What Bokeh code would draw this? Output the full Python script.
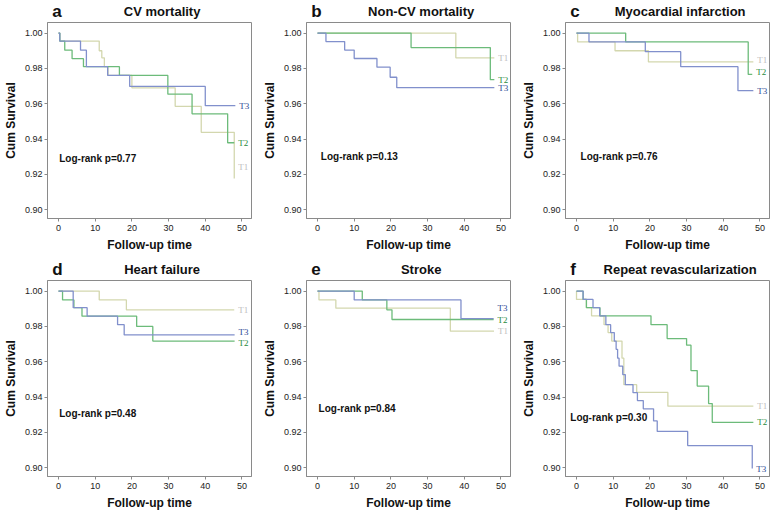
from bokeh.plotting import figure
from bokeh.layouts import row, column
from bokeh.models import FixedTicker, Range1d, PrintfTickFormatter
from bokeh.core.properties import value
from bokeh.embed import file_html
from bokeh.resources import INLINE

# ---------------- data ----------------
GROUPS = ["T1", "T2", "T3"]
PANEL_LETTERS = ["a", "b", "c", "d", "e", "f"]
PANEL_TITLES = ["CV mortality", "Non-CV mortality", "Myocardial infarction",
                "Heart failure", "Stroke", "Repeat revascularization"]
LOGRANK_P = ["0.77", "0.13", "0.76", "0.48", "0.84", "0.30"]
X_TICKS = [0, 10, 20, 30, 40, 50]
Y_TICKS = [0.90, 0.92, 0.94, 0.96, 0.98, 1.00]

# a: CV mortality
A_T1_TIME = [0, 0.35, 11.1, 11.8, 12.5, 13.5, 20.0, 31.8, 38.9, 47.9]
A_T1_SURV = [1.0, 0.9955, 0.990, 0.986, 0.981, 0.976, 0.969, 0.9585, 0.9438, 0.9176]
A_T2_TIME = [0, 0.35, 1.7, 3.7, 6.8, 16.6, 29.8, 36.4, 46.1, 47.9]
A_T2_SURV = [1.0, 0.9955, 0.9903, 0.9855, 0.981, 0.976, 0.9654, 0.9543, 0.9379, 0.9379]
A_T3_TIME = [0, 0.35, 6.0, 7.6, 13.4, 19.4, 40.0, 48.2]
A_T3_SURV = [1.0, 0.9955, 0.9903, 0.981, 0.976, 0.9698, 0.9589, 0.9589]

# b: Non-CV mortality
B_T1_TIME = [0, 37.7, 48.2]
B_T1_SURV = [1.0, 0.986, 0.986]
B_T2_TIME = [0, 25.5, 47.1, 48.2]
B_T2_SURV = [1.0, 0.9918, 0.9736, 0.9736]
B_T3_TIME = [0, 2.3, 7.4, 10.0, 16.2, 19.8, 21.6, 48.2]
B_T3_SURV = [1.0, 0.9952, 0.9904, 0.9856, 0.9807, 0.975, 0.9691, 0.9691]

# c: Myocardial infarction
C_T1_TIME = [0, 0.3, 10.5, 19.6, 48.2]
C_T1_SURV = [1.0, 0.995, 0.990, 0.9837, 0.9837]
C_T2_TIME = [0, 13.4, 46.8, 47.9]
C_T2_SURV = [1.0, 0.995, 0.9766, 0.9766]
C_T3_TIME = [0, 3.4, 18.75, 28.4, 44.0, 48.2]
C_T3_SURV = [1.0, 0.995, 0.9895, 0.981, 0.9674, 0.9674]

# d: Heart failure
D_T1_TIME = [0, 11.1, 18.5, 47.9]
D_T1_SURV = [1.0, 0.995, 0.9894, 0.9894]
D_T2_TIME = [0, 1.1, 4.2, 6.4, 21.3, 25.7, 48.0]
D_T2_SURV = [1.0, 0.995, 0.9906, 0.9858, 0.980, 0.9717, 0.9717]
D_T3_TIME = [0, 4.0, 7.8, 16.1, 17.9, 48.0]
D_T3_SURV = [1.0, 0.9906, 0.9858, 0.981, 0.9752, 0.9752]

# e: Stroke
E_T1_TIME = [0, 0.4, 5.0, 36.2, 48.1]
E_T1_SURV = [1.0, 0.995, 0.9903, 0.9773, 0.9773]
E_T2_TIME = [0, 12.2, 18.9, 20.3, 48.0]
E_T2_SURV = [1.0, 0.995, 0.9894, 0.9839, 0.9839]
E_T3_TIME = [0, 10.0, 39.1, 48.0]
E_T3_SURV = [1.0, 0.995, 0.9844, 0.9844]

# f: Repeat revascularization
F_T1_TIME = [0, 0, 2.7, 4.1, 7.5, 8.6, 9.6, 12.4, 12.9, 16.4, 24.9, 48.2]
F_T1_SURV = [1.0, 0.9953, 0.9906, 0.986, 0.981, 0.9765, 0.9717, 0.962, 0.947, 0.9426, 0.9348, 0.9348]
F_T2_TIME = [0, 1.8, 2.7, 6.4, 20.3, 24.7, 30.0, 31.2, 32.9, 36.0, 37.0, 48.2]
F_T2_SURV = [1.0, 0.9953, 0.9906, 0.986, 0.981, 0.9731, 0.9694, 0.955, 0.9462, 0.9363, 0.9257, 0.9257]
F_T3_TIME = [0, 1.8, 4.5, 6.3, 8.0, 9.3, 10.3, 10.8, 11.2, 11.6, 12.6, 13.3, 15.4, 16.6,
             18.2, 21.0, 22.0, 30.3, 47.9]
F_T3_SURV = [1.0, 0.9953, 0.9906, 0.986, 0.981, 0.9765, 0.9717, 0.967, 0.962, 0.9575,
             0.9527, 0.947, 0.9425, 0.938, 0.9333, 0.9265, 0.9205, 0.9125, 0.8995]

SERIES = [
    [(A_T1_TIME, A_T1_SURV), (A_T2_TIME, A_T2_SURV), (A_T3_TIME, A_T3_SURV)],
    [(B_T1_TIME, B_T1_SURV), (B_T2_TIME, B_T2_SURV), (B_T3_TIME, B_T3_SURV)],
    [(C_T1_TIME, C_T1_SURV), (C_T2_TIME, C_T2_SURV), (C_T3_TIME, C_T3_SURV)],
    [(D_T1_TIME, D_T1_SURV), (D_T2_TIME, D_T2_SURV), (D_T3_TIME, D_T3_SURV)],
    [(E_T1_TIME, E_T1_SURV), (E_T2_TIME, E_T2_SURV), (E_T3_TIME, E_T3_SURV)],
    [(F_T1_TIME, F_T1_SURV), (F_T2_TIME, F_T2_SURV), (F_T3_TIME, F_T3_SURV)],
]

# ---------------- style ----------------
LINE_COLORS = ["#d3d7ae", "#6cbb7a", "#8190cc"]
TEXT_COLORS = ["#bdbdbd", "#1f8a3c", "#2b4795"]
FRAME_COLOR = "#8a8a8a"
SANS = "Liberation Sans"
SERIF = "Liberation Serif"
LABEL_NUDGE = {(0, 0): 0.0068, (3, 1): -0.0010, (3, 2): 0.0018, (4, 2): 0.006,
               (2, 0): 0.001, (2, 1): 0.0012}
NOTE_POS = [(0.2, 0.929), (0.9, 0.930), (1.1, 0.930), (0.2, 0.9307), (0.3, 0.9335), (-1.7, 0.9286)]

FW, FH = 204, 196
BL, BR = 44, 8
PW = BL + FW + BR


def make_header(i, h):
    hp = figure(width=PW, height=h, x_range=Range1d(0, PW), y_range=Range1d(0, h),
                output_backend="svg", toolbar_location=None,
                min_border=0, min_border_left=0, min_border_right=0,
                min_border_top=0, min_border_bottom=0)
    hp.axis.visible = False
    hp.grid.visible = False
    hp.outline_line_color = None
    hp.text(x=[6], y=[9.5], text=[PANEL_LETTERS[i]], text_font=value(SANS),
            text_font_style="bold", text_font_size="17px", text_color="#111111",
            text_baseline="middle", text_align="left")
    hp.text(x=[BL + FW / 2], y=[9.5], text=[PANEL_TITLES[i]], text_font=value(SANS),
            text_font_style="bold", text_font_size="13px", text_color="#111111",
            text_baseline="middle", text_align="center")
    return hp


def make_panel(i):
    p = figure(frame_width=FW, frame_height=FH,
               x_range=Range1d(-3, 52.6), y_range=Range1d(0.895, 1.006),
               output_backend="svg", toolbar_location=None,
               min_border_left=BL, min_border_right=BR,
               min_border_top=2, min_border_bottom=36,
               background_fill_color="white", border_fill_color="white")
    p.grid.visible = False
    p.outline_line_color = FRAME_COLOR
    p.outline_line_width = 1

    for ax in (p.xaxis[0], p.yaxis[0]):
        ax.axis_line_color = FRAME_COLOR
        ax.major_tick_line_color = FRAME_COLOR
        ax.major_tick_out = 3
        ax.major_tick_in = 0
        ax.minor_tick_line_color = None
        ax.major_label_text_font = SANS
        ax.major_label_text_font_size = "9px"
        ax.major_label_text_color = "#222222"
        ax.axis_label_text_font = SANS
        ax.axis_label_text_font_style = "bold"
        ax.axis_label_text_font_size = "12px"
        ax.axis_label_text_color = "#111111"
        ax.axis_label_standoff = 4
    p.xaxis.major_label_standoff = 3
    p.yaxis.major_label_standoff = 2
    p.xaxis.ticker = FixedTicker(ticks=X_TICKS)
    p.yaxis.ticker = FixedTicker(ticks=Y_TICKS)
    p.yaxis.formatter = PrintfTickFormatter(format="%.2f")
    p.xaxis.axis_label = "Follow-up time"
    p.yaxis.axis_label = "Cum Survival"

    for g, (t, s) in enumerate(SERIES[i]):
        p.step(t, s, mode="after", line_color=LINE_COLORS[g], line_width=1.3)
    for g, (t, s) in enumerate(SERIES[i]):
        p.text(x=[t[-1]], y=[s[-1] + LABEL_NUDGE.get((i, g), 0.0)], text=[GROUPS[g]],
               x_offset=4, text_font=value(SERIF), text_font_size="9px",
               text_color=TEXT_COLORS[g], text_baseline="middle", text_align="left")

    nx, ny = NOTE_POS[i]
    p.text(x=[nx], y=[ny], text=["Log-rank p=" + LOGRANK_P[i]],
           text_font=value(SANS), text_font_size="10px", text_font_style="bold",
           text_color="#111111", text_baseline="middle", text_align="left")
    return p


cells = []
for i in range(6):
    h = 20 if i < 3 else 24
    cells.append(column(make_header(i, h), make_panel(i)))
layout = column(row(*cells[:3]), row(*cells[3:]))
open("out.html", "w").write(file_html(layout, INLINE))
